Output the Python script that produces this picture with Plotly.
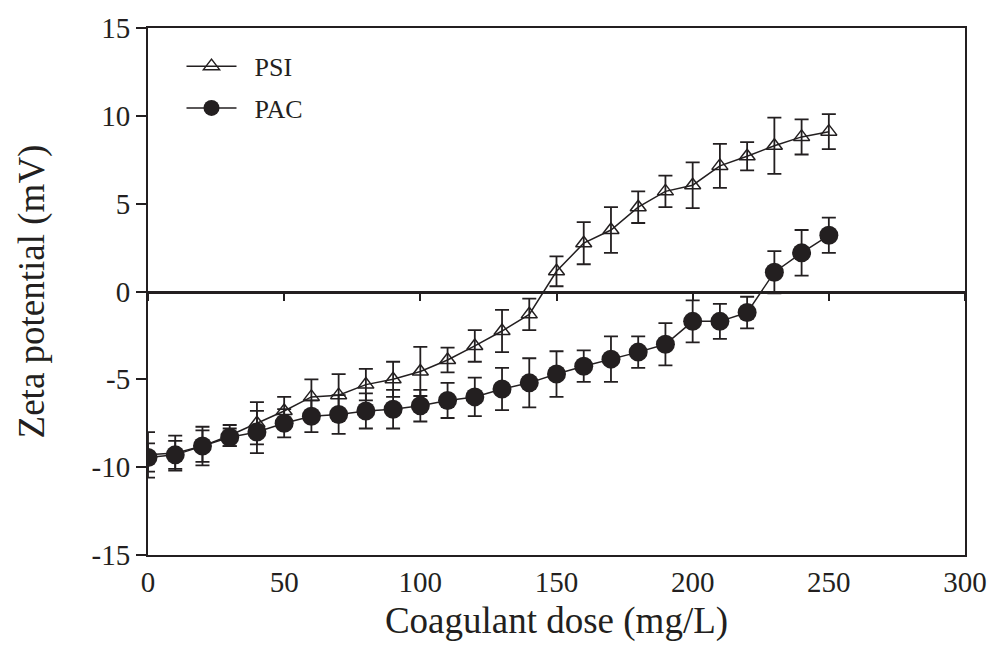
import plotly.graph_objects as go

dose = [0, 10, 20, 30, 40, 50, 60, 70, 80, 90, 100, 110, 120, 130, 140, 150,
        160, 170, 180, 190, 200, 210, 220, 230, 240, 250]

psi = [-9.3, -9.2, -8.8, -8.2, -7.5, -6.8, -6.0, -5.9, -5.3, -5.0, -4.55, -3.9,
       -3.1, -2.25, -1.3, 1.15, 2.75, 3.5, 4.8, 5.7, 6.05, 7.15, 7.7, 8.3, 8.8, 9.1]
psi_err = [1.3, 1.0, 1.1, 0.6, 1.2, 0.8, 1.0, 1.2, 0.9, 1.0, 1.4, 0.7,
           0.9, 1.2, 0.9, 0.85, 1.2, 1.3, 0.9, 0.9, 1.3, 1.25, 0.8, 1.6, 1.0, 1.0]

pac = [-9.45, -9.3, -8.8, -8.3, -8.0, -7.5, -7.1, -7.0, -6.8, -6.7, -6.5, -6.2,
       -6.0, -5.55, -5.2, -4.7, -4.25, -3.85, -3.45, -3.0, -1.7, -1.7, -1.2,
       1.1, 2.2, 3.2]
pac_err = [0.8, 0.8, 0.9, 0.5, 1.2, 0.8, 0.9, 1.1, 1.0, 1.1, 0.9, 1.0,
           1.1, 1.2, 1.4, 1.3, 0.9, 1.3, 0.9, 1.2, 1.2, 1.0, 0.9, 1.2, 1.3, 1.0]

series_names = ["PSI", "PAC"]
x_ticks = [0, 50, 100, 150, 200, 250, 300]
y_ticks = [-15, -10, -5, 0, 5, 10, 15]
y_ticktext = ["-15", "-10", "-5", "0", "5", "10", "15"]

ink = "#231f20"
font = "Liberation Serif, Times New Roman, serif"
pad = "\u00a0\u00a0"

fig = go.Figure()
fig.add_trace(go.Scatter(
    x=dose, y=psi, name=pad + series_names[0], mode="lines+markers", legendgroup="a",
    line=dict(color=ink, width=1.5),
    marker=dict(symbol="triangle-up-open", size=14, color=ink, line=dict(width=1.5, color=ink)),
    error_y=dict(type="data", array=psi_err, visible=True, color=ink, thickness=1.8, width=7),
))
fig.add_trace(go.Scatter(
    x=dose, y=pac, name=pad + series_names[1], mode="lines+markers", legendgroup="b",
    line=dict(color=ink, width=1.5),
    marker=dict(symbol="circle", size=19, color=ink),
    error_y=dict(type="data", array=pac_err, visible=True, color=ink, thickness=1.8, width=7),
))
# invisible trace to drive the axis drawn along y = 0
fig.add_trace(go.Scatter(x=[0, 300], y=[0, 0], xaxis="x2", mode="lines",
                         line=dict(width=0), showlegend=False, hoverinfo="skip"))

fig.update_layout(
    width=999, height=656,
    margin=dict(l=148, r=26, t=22, b=101),
    paper_bgcolor="white", plot_bgcolor="white",
    font=dict(family=font, color=ink, size=26),
    showlegend=True,
    legend=dict(x=0.041, y=0.972, xanchor="left", yanchor="top",
                bgcolor="rgba(0,0,0,0)", font=dict(size=26, family=font, color=ink),
                traceorder="grouped", tracegroupgap=5, itemwidth=50),
    xaxis=dict(range=[0, 300], tickvals=x_ticks,
               showline=True, linecolor=ink, linewidth=2, mirror=True,
               ticks="", showgrid=False, zeroline=False,
               tickfont=dict(size=29, family=font, color=ink),
               title=dict(text="Coagulant dose (mg/L)", font=dict(size=37, family=font, color=ink),
                          standoff=10)),
    xaxis2=dict(range=[0, 300], overlaying="x", anchor="free", position=0.5,
                tickvals=x_ticks, showticklabels=False,
                ticks="outside", ticklen=8, tickwidth=1.5, tickcolor=ink,
                showline=True, linecolor=ink, linewidth=2.5, showgrid=False, zeroline=False),
    yaxis=dict(range=[-15, 15], tickvals=y_ticks, ticktext=y_ticktext,
               showline=True, linecolor=ink, linewidth=2, mirror=True,
               ticks="outside", ticklen=10, tickwidth=1.5, tickcolor=ink,
               showgrid=False, zeroline=False,
               tickfont=dict(size=29, family=font, color=ink),
               title=dict(text="Zeta potential (mV)", font=dict(size=37, family=font, color=ink),
                          standoff=36)),
)

fig.write_html("out.html", config={"displayModeBar": False},
               post_script="document.body.style.margin='0';")
